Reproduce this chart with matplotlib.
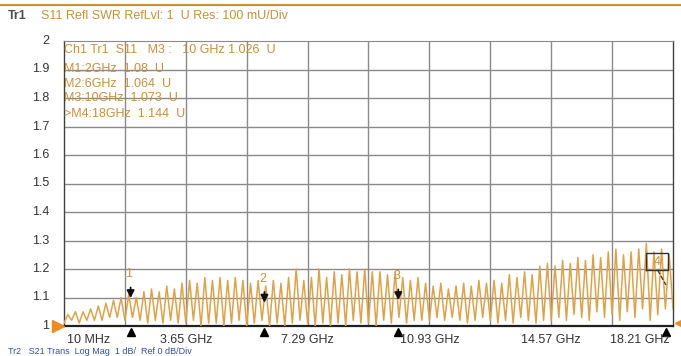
import numpy as np
import matplotlib
matplotlib.use("Agg")
import matplotlib.pyplot as plt
from matplotlib.transforms import blended_transform_factory

plt.rcParams["font.family"] = ["Liberation Sans", "DejaVu Sans"]

# ---- data ----
f_start, f_stop = 0.01, 18.21   # GHz
peaks = [1.04, 1.05, 1.05, 1.06, 1.07, 1.08, 1.09, 1.10,
         1.11, 1.10, 1.12, 1.13, 1.12, 1.14, 1.13, 1.15,
         1.16, 1.15, 1.17, 1.16, 1.17, 1.16, 1.17, 1.16,
         1.15, 1.16, 1.14, 1.16, 1.15, 1.17, 1.20, 1.16,
         1.17, 1.20, 1.17, 1.19, 1.18, 1.20, 1.19, 1.20,
         1.19, 1.19, 1.18, 1.19, 1.17, 1.16, 1.17, 1.15,
         1.14, 1.15, 1.13, 1.14, 1.15, 1.14, 1.16, 1.15,
         1.16, 1.15, 1.18, 1.17, 1.19, 1.18, 1.21, 1.22,
         1.21, 1.23, 1.22, 1.24, 1.23, 1.25, 1.24, 1.26,
         1.27, 1.25, 1.26, 1.27, 1.29, 1.26, 1.27, 1.25]
troughs = [1.01, 1.02, 1.01, 1.02, 1.02, 1.02, 1.03, 1.03,
           1.02, 1.03, 1.02, 1.01, 1.02, 1.01, 1.02, 1.01,
           1.01, 1.02, 1.00, 1.01, 1.01, 1.00, 1.01, 1.02,
           1.00, 1.01, 1.02, 1.00, 1.01, 1.00, 1.01, 1.02,
           1.01, 1.00, 1.01, 1.00, 1.01, 1.00, 1.02, 1.01,
           1.01, 1.00, 1.02, 1.01, 1.03, 1.01, 1.02, 1.02,
           1.02, 1.03, 1.02, 1.03, 1.02, 1.01, 1.02, 1.03,
           1.02, 1.01, 1.02, 1.01, 1.03, 1.02, 1.01, 1.02,
           1.02, 1.03, 1.02, 1.04, 1.03, 1.02, 1.05, 1.03,
           1.04, 1.02, 1.05, 1.03, 1.06, 1.02, 1.04, 1.06]
marker_ids = ["1", "2", "3", "4"]
marker_freq = [2.0, 6.0, 10.0, 18.0]
marker_val = [1.08, 1.064, 1.073, 1.144]
xtick_labels = ["10 MHz", "3.65 GHz", "7.29 GHz", "10.93 GHz", "14.57 GHz", "18.21 GHz"]
ytick_vals = [1, 1.1, 1.2, 1.3, 1.4, 1.5, 1.6, 1.7, 1.8, 1.9, 2]
ytick_labels = ["1", "1.1", "1.2", "1.3", "1.4", "1.5", "1.6", "1.7", "1.8", "1.9", "2"]
readout = ["Ch1 Tr1  S11   M3 :   10 GHz 1.026  U",
           "M1:2GHz  1.08  U",
           "M2:6GHz  1.064  U",
           "M3:10GHz  1.073  U",
           ">M4:18GHz  1.144  U"]

# interleave troughs/peaks into the trace
trace = []
for t, p in zip(troughs, peaks):
    trace += [t, p]
trace.append(troughs[-1])
freq = np.linspace(f_start, f_stop, len(trace))

ORANGE = "#e0a248"
TXT_OR = "#c99038"
GRID = "#8a8a8a"
FS = 9

fig = plt.figure(figsize=(6.81, 3.56), dpi=100)
ax = fig.add_axes([64/681, 1-326/356, (673-64)/681, (326-41)/356])
ax.set_xlim(f_start, f_stop)
ax.set_ylim(1, 2)

div = (f_stop - f_start) / 10
for i in range(1, 10):
    ax.axvline(f_start + i*div, color=GRID, lw=1, zorder=1)
for v in ytick_vals[1:-1]:
    ax.axhline(v, color=GRID, lw=1, zorder=1)

ax.plot(freq, trace, color=ORANGE, lw=1.1, zorder=3)

ax.set_xticks([])
ax.set_yticks([])
for s in ["left", "right"]:
    ax.spines[s].set_color("#404040")
    ax.spines[s].set_linewidth(1)
ax.spines["top"].set_color(GRID)
ax.spines["bottom"].set_color("#202020")
ax.spines["bottom"].set_linewidth(1.6)

# y tick labels
ytr = blended_transform_factory(fig.transFigure, ax.transData)
for v, lab in zip(ytick_vals, ytick_labels):
    fig.text(49/681, v, lab, transform=ytr, ha="right", va="center",
             fontsize=FS, color="#333333")

# x tick labels
xtr = blended_transform_factory(ax.transData, fig.transFigure)
ypos = 1 - 340/356
for i, lab in enumerate(xtick_labels):
    fx = f_start + 2*i*div
    ha = "center"
    if i == 0:
        ha = "left"
        fx = f_start + 0.1
    elif i == len(xtick_labels) - 1:
        ha = "right"
        fx = f_stop - 0.1
    fig.text(fx, ypos, lab, transform=xtr, ha=ha, va="center",
             fontsize=FS, color="#333333")

# readout text block
rd_y = [50, 69, 84, 98, 114]
for txt, yy in zip(readout, rd_y):
    fig.text(64/681, 1 - yy/356, txt, ha="left", va="center",
             fontsize=FS, color=TXT_OR, zorder=5)

# markers 1-3 : arrows with labels
for mid, mf, mv in zip(marker_ids[:3], marker_freq[:3], marker_val[:3]):
    ax.annotate("", xy=(mf, mv + 0.008), xytext=(mf, mv + 0.065),
                arrowprops=dict(arrowstyle="-|>", color="#111111", lw=1.3,
                                mutation_scale=11), zorder=6)
    ax.text(mf - 0.05, mv + 0.08, mid, ha="center", va="bottom",
            fontsize=FS, color=TXT_OR, zorder=6)

# marker 4 : box with label and dashed leader
bx0, bx1 = 17.4, 18.05
by0, by1 = 1.196, 1.256
ax.plot([bx0, bx1, bx1, bx0, bx0], [by0, by0, by1, by1, by0],
        color="#333333", lw=1, zorder=6)
ax.text((bx0+bx1)/2, (by0+by1)/2, marker_ids[3], ha="center", va="center",
        fontsize=FS, color=TXT_OR, zorder=6)
ax.plot([17.75, marker_freq[3]], [by0, marker_val[3]], color="#333333",
        lw=0.9, ls="--", zorder=6)

# black triangles under axis
for mf in marker_freq:
    ax.plot([mf], [0.978], marker="^", color="black", ms=6,
            clip_on=False, zorder=7)

# orange ref-level triangles
ax.plot([-0.17], [1.0], marker=">", color="#f08a1e", ms=8, clip_on=False, zorder=7)
ax.plot([18.42], [1.01], marker="<", color="#f08a1e", ms=7, clip_on=False, zorder=7)

# header
fig.add_artist(plt.Line2D([0, 1], [1 - 5/356, 1 - 5/356], color="#c8952e", lw=1.6,
                          transform=fig.transFigure))
fig.text(8/681, 1 - 16/356, "Tr1", ha="left", va="center", fontsize=FS,
         fontweight="bold", color="#505050")
fig.text(41/681, 1 - 16/356, "S11 Refl SWR RefLvl: 1  U Res: 100 mU/Div",
         ha="left", va="center", fontsize=FS, color=TXT_OR)

# second-trace line at bottom (partly hidden in the reference)
fig.text(8/681, 1 - 352/356, "Tr2   S21 Trans  Log Mag  1 dB/  Ref 0 dB/Div",
         ha="left", va="center", fontsize=6.5, color="#3050a0")

fig.savefig("out.png", dpi=100)
